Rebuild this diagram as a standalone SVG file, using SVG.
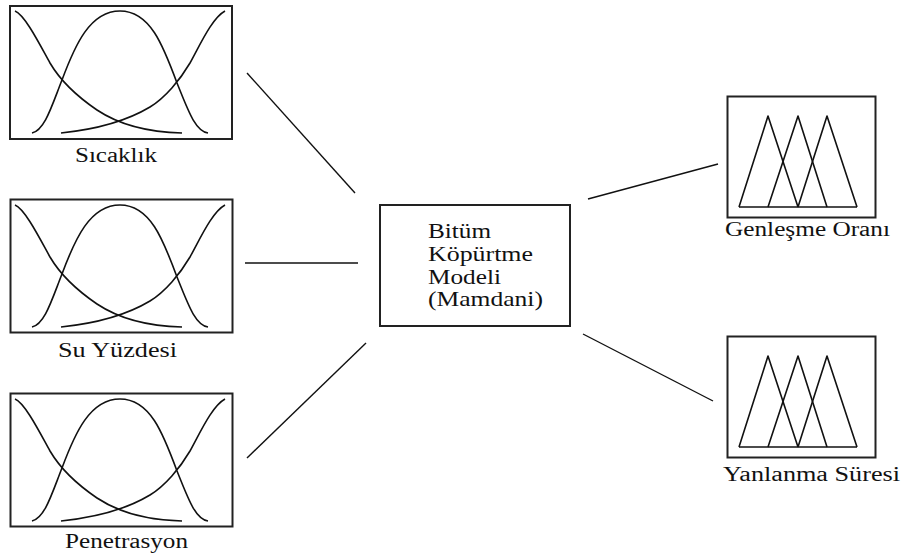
<svg xmlns="http://www.w3.org/2000/svg" xmlns:xlink="http://www.w3.org/1999/xlink" width="904" height="554" viewBox="0 0 904 554">
<style>
.box{fill:#fff;stroke:#222;stroke-width:2}
.mf{fill:none;stroke:#111;stroke-width:1.6;stroke-linejoin:round}
.conn{stroke:#111;stroke-width:1.4;fill:none}
.lbl{font-family:"Liberation Serif","Times New Roman",serif;font-size:20px;fill:#111}
.ctr{font-family:"Liberation Serif","Times New Roman",serif;font-size:21px;fill:#111}
</style>
<defs>
<g id="gauss">
<path class="mf" d="M15,11 C25,15 40,45 50,63 C60,80 75,95 97,110 C115,122 140,132 182,133"/>
<path class="mf" d="M32,133 C45,130 52,105 62,80 C75,45 90,11 120,11 C150,11 163,45 177,83 C188,110 195,131 208,133"/>
<path class="mf" d="M61,133 C90,130 125,122 150,107 C165,98 180,80 190,63 C200,45 212,18 225,11"/>
</g>
<g id="tri">
<polyline class="mf" points="739,207 768,116 798,207"/>
<polyline class="mf" points="768,207 798,116 827,207"/>
<polyline class="mf" points="798,207 827,116 857,207"/>
<line class="mf" x1="739" y1="207" x2="857" y2="207"/>
</g>
</defs>
<g id="connectors">
<line class="conn" x1="247" y1="73" x2="355" y2="193"/>
<line class="conn" x1="245" y1="263" x2="358" y2="263"/>
<line class="conn" x1="247" y1="458" x2="366" y2="343"/>
<line class="conn" x1="588" y1="199" x2="718" y2="164"/>
<line class="conn" x1="583" y1="334" x2="713" y2="401"/>
</g>
<g id="sicaklik">
<rect class="box" x="10" y="6" width="222" height="133"/>
<use xlink:href="#gauss"/>
<text class="lbl" x="75" y="162" textLength="82" lengthAdjust="spacingAndGlyphs">Sıcaklık</text>
</g>
<g id="su-yuzdesi">
<rect class="box" x="10.5" y="199.5" width="222" height="133"/>
<use xlink:href="#gauss" transform="translate(0,194)"/>
<text class="lbl" x="58" y="357" textLength="119" lengthAdjust="spacingAndGlyphs">Su Yüzdesi</text>
</g>
<g id="penetrasyon">
<rect class="box" x="10.5" y="393.5" width="222" height="133"/>
<use xlink:href="#gauss" transform="translate(0,388)"/>
<text class="lbl" x="65" y="548" textLength="123" lengthAdjust="spacingAndGlyphs">Penetrasyon</text>
</g>
<g id="model">
<rect class="box" x="380" y="205" width="190" height="121"/>
<text class="ctr" x="428" y="238" textLength="63" lengthAdjust="spacingAndGlyphs">Bitüm</text>
<text class="ctr" x="428" y="261" textLength="105" lengthAdjust="spacingAndGlyphs">Köpürtme</text>
<text class="ctr" x="428" y="284" textLength="73" lengthAdjust="spacingAndGlyphs">Modeli</text>
<text class="ctr" x="428" y="306" textLength="115" lengthAdjust="spacingAndGlyphs">(Mamdani)</text>
</g>
<g id="genlesme-orani">
<rect class="box" x="727.5" y="96.5" width="148" height="121"/>
<use xlink:href="#tri"/>
<text class="lbl" x="725" y="236" textLength="165" lengthAdjust="spacingAndGlyphs">Genleşme Oranı</text>
</g>
<g id="yanlanma-suresi">
<rect class="box" x="727.5" y="336.5" width="148" height="121"/>
<use xlink:href="#tri" transform="translate(0,240)"/>
<text class="lbl" x="723" y="481" textLength="177" lengthAdjust="spacingAndGlyphs">Yanlanma Süresi</text>
</g>
</svg>
